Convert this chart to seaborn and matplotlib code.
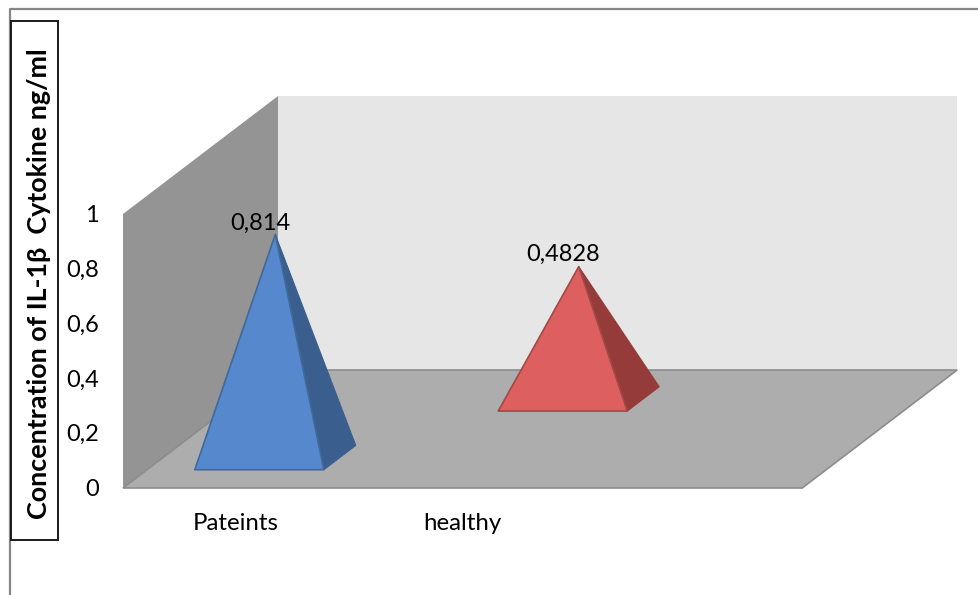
import numpy as np
import seaborn as sns
import matplotlib
matplotlib.use("Agg")
import matplotlib.pyplot as plt
from matplotlib.patches import Polygon, Rectangle

categories = ["Pateints", "healthy", ""]
values = [0.814, 0.4828]
value_labels = ["0,814", "0,4828"]
tick_values = [0, 0.2, 0.4, 0.6, 0.8, 1]
tick_labels = ["0", "0,2", "0,4", "0,6", "0,8", "1"]
y_title = "Concentration of IL-1\u03b2  Cytokine ng/ml"

front_colors = ["#5588CC", "#DD5F5F"]
side_colors = ["#3A5F8E", "#953C3A"]
edge_colors = ["#41689B", "#A04A48"]

sns.set_theme(style="white")
plt.rcParams["font.family"] = ["Lato", "DejaVu Sans"]

# Oblique projection of the chart box onto the canvas
ORIGIN = (123.0, 488.0)
CAT_W = 226.4
UNIT_H = 274.0
DEPTH_DX, DEPTH_DY = 155.0, 118.0


def proj(cat, val, depth):
    return (ORIGIN[0] + cat * CAT_W + depth * DEPTH_DX,
            ORIGIN[1] - val * UNIT_H - depth * DEPTH_DY)


fig = plt.figure(figsize=(9.79, 5.95), dpi=100, facecolor="white")
ax = fig.add_axes([0, 0, 1, 1])
ax.set_xlim(0, 979)
ax.set_ylim(595, 0)
ax.axis("off")

# Outer frame: only the top and left edges are visible
ax.plot([10.5, 10.5, 979], [595, 8.5, 8.5], color="#868686", lw=1.6, zorder=1)

n_cat = len(categories)
# Back wall, side wall and floor
ax.add_patch(Polygon([proj(0, 0, 1), proj(n_cat, 0, 1), proj(n_cat, 1, 1), proj(0, 1, 1)],
                     fc="#E6E6E6", ec="none", zorder=2))
ax.add_patch(Polygon([proj(0, 0, 0), proj(0, 0, 1), proj(0, 1, 1), proj(0, 1, 0)],
                     fc="#949494", ec="none", zorder=3))
ax.add_patch(Polygon([proj(0, 0, 0), proj(n_cat, 0, 0), proj(n_cat, 0, 1), proj(0, 0, 1)],
                     fc="#ADADAD", ec="#8C8C8C", lw=1.2, zorder=4))

# Pyramids: each series sits at its own depth in the box
half_width = 0.285
depth_centres = [0.258, 0.755]
half_depth = 0.103
slot_centre = 0.496
label_shift = [-15, -15.5]
label_gap = [1, 1.5]
for i, v in enumerate(values):
    c = i + slot_centre
    d = depth_centres[i]
    fl = proj(c - half_width, 0, d - half_depth)
    fr = proj(c + half_width, 0, d - half_depth)
    br = proj(c + half_width, 0, d + half_depth)
    apex = proj(c, v, d)
    ax.add_patch(Polygon([fr, br, apex], fc=side_colors[i], ec=side_colors[i],
                         lw=0.8, joinstyle="round", zorder=5))
    ax.add_patch(Polygon([fl, fr, apex], fc=front_colors[i], ec=edge_colors[i],
                         lw=1.2, joinstyle="round", zorder=6))
    ax.text(apex[0] + label_shift[i], apex[1] - label_gap[i], value_labels[i],
            ha="center", va="bottom", fontsize=17, color="black", zorder=7)

# Value axis labels
for t, lab in zip(tick_values, tick_labels):
    x, y = proj(0, t, 0)
    ax.text(99, y + 1.5, lab, ha="right", va="center", fontsize=17, color="black", zorder=7)

# Category labels; the last slot is left empty
for i, lab in enumerate(categories):
    if lab:
        x, _ = proj(i + 0.5, 0, 0)
        ax.text(x, 523, lab, ha="center", va="center", fontsize=17.3, color="black", zorder=7)

# Boxed axis title
ax.add_patch(Rectangle((11.5, 21), 46.5, 519, fc="white", ec="#1A1A1A", lw=1.4, zorder=6))
ax.text(39.5, 283.5, y_title, rotation=90, ha="center", va="center", fontsize=19.4,
        fontweight="bold", color="black", zorder=7)

fig.savefig("out.png", dpi=100, facecolor="white")
